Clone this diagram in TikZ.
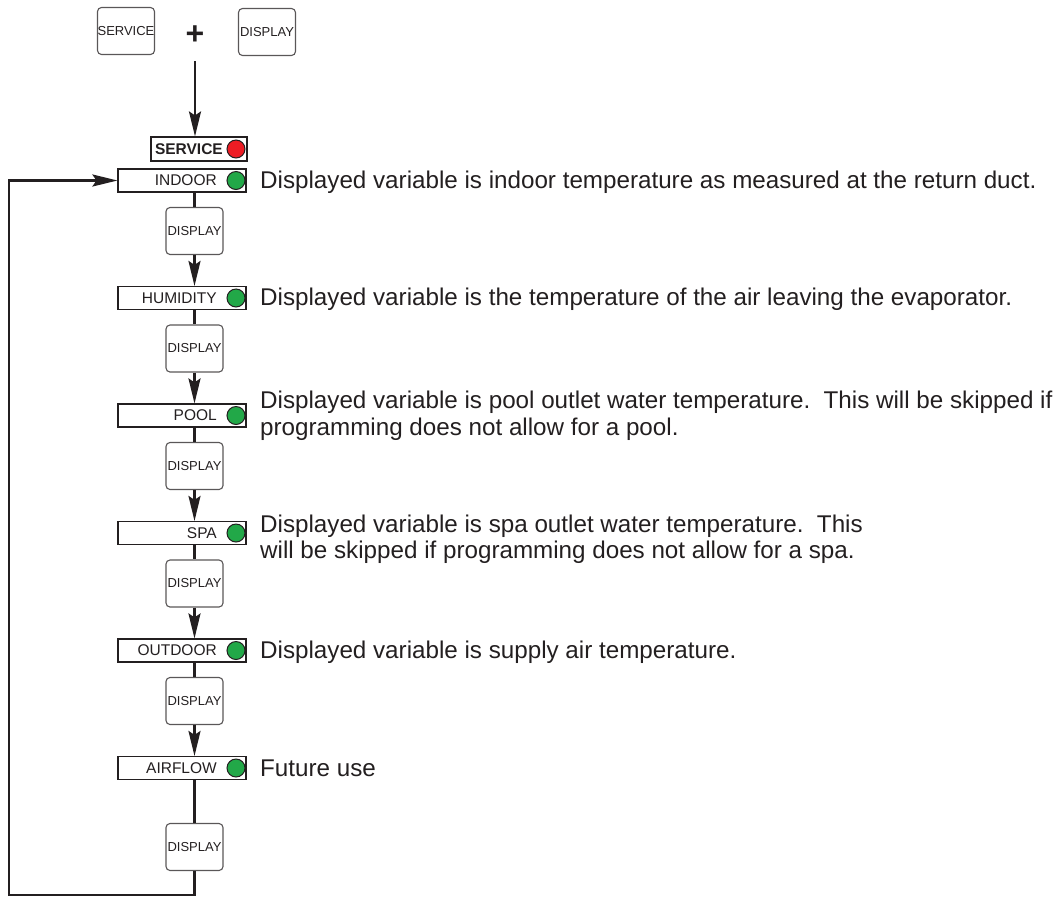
\documentclass[tikz,border=0pt]{standalone}
\usepackage{fontspec}
\setmainfont{Liberation Sans}
\usetikzlibrary{arrows.meta}
\definecolor{lampgreen}{RGB}{34,168,72}
\definecolor{lampred}{RGB}{237,28,36}
\definecolor{ink}{RGB}{35,31,32}
\begin{document}
\frenchspacing
\begin{tikzpicture}[x=1pt,y=-1pt,
  keybtn/.style={draw=ink!75, line width=1.1pt, rounded corners=4pt,
    minimum width=57pt, minimum height=47pt, inner sep=0pt,
    font=\fontsize{13}{13}\selectfont, text=ink},
  statebox/.style={draw=ink, line width=1.1pt, minimum width=128pt,
    minimum height=23pt, inner sep=0pt},
  statename/.style={anchor=east, inner sep=0pt,
    font=\fontsize{15.5}{15.5}\selectfont, text=ink},
  lamp/.style={circle, draw=ink, line width=1pt, fill=lampgreen,
    minimum size=18pt, inner sep=0pt},
  note/.style={anchor=base west, inner sep=0pt,
    font=\fontsize{24.2}{24.2}\selectfont, text=ink},
  flow/.style={draw=ink, line width=2.4pt},
  tip/.style={-{Stealth[length=25pt,width=12pt,inset=4pt]}}
]
\useasboundingbox (0,0) rectangle (1056,898);

% key combination that enters service mode
\node[keybtn] (ksvc) at (126,31) {SERVICE};
\node[keybtn] (kdsp) at (267,32) {DISPLAY};
\node[inner sep=0pt, font=\fontsize{32}{32}\selectfont\bfseries, text=ink] (plus) at (195,35) {+};
\coordinate (plusfoot) at (195,61);

% service mode header
\node[statebox, minimum width=96pt, minimum height=24pt] (svc) at (199,149) {};
\node[statename, font=\fontsize{15.5}{15.5}\selectfont\bfseries] (svct) at (223,149) {SERVICE};
\node[lamp, fill=lampred] (svcl) at (236,149) {};

% displayed variables
\node[statebox] (ind) at (182,180.5) {};
\node[statename] (indt) at (217,180.5) {INDOOR};
\node[lamp] (indl) at (236,180.5) {};

\node[statebox] (hum) at (182,298) {};
\node[statename] (humt) at (217,298) {HUMIDITY};
\node[lamp] (huml) at (236,298) {};

\node[statebox] (pool) at (182,415.5) {};
\node[statename] (poolt) at (217,415.5) {POOL};
\node[lamp] (pooll) at (236,415.5) {};

\node[statebox] (spa) at (182,533) {};
\node[statename] (spat) at (217,533) {SPA};
\node[lamp] (spal) at (236,533) {};

\node[statebox] (out) at (182,650.5) {};
\node[statename] (outt) at (217,650.5) {OUTDOOR};
\node[lamp] (outl) at (236,650.5) {};

\node[statebox] (air) at (182,768) {};
\node[statename] (airt) at (217,768) {AIRFLOW};
\node[lamp] (airl) at (236,768) {};

% DISPLAY key presses between the variables
\node[keybtn] (b1) at (194.5,231) {DISPLAY};
\node[keybtn] (b2) at (194.5,348.5) {DISPLAY};
\node[keybtn] (b3) at (194.5,466) {DISPLAY};
\node[keybtn] (b4) at (194.5,583.5) {DISPLAY};
\node[keybtn] (b5) at (194.5,701) {DISPLAY};
\node[keybtn] (b6) at (194.5,847) {DISPLAY};

% descriptions
\node[note] (n1) at (260,188) {Displayed variable is indoor temperature as measured at the return duct.};
\node[note] (n2) at (260,305.5) {Displayed variable is the temperature of the air leaving the evaporator.};
\node[note] (n3a) at (260,408) {Displayed variable is pool outlet water temperature.~~This will be skipped if};
\node[note] (n3b) at (260,435) {programming does not allow for a pool.};
\node[note] (n4a) at (260,532) {Displayed variable is spa outlet water temperature.~~This};
\node[note] (n4b) at (260,558.5) {will be skipped if programming does not allow for a spa.};
\node[note] (n5) at (260,658) {Displayed variable is supply air temperature.};
\node[note] (n6) at (260,776) {Future use};

% flow
\draw[flow, tip] (plusfoot) -- (plusfoot |- svc.north);
\foreach \s/\b/\t in {ind/b1/hum, hum/b2/pool, pool/b3/spa, spa/b4/out, out/b5/air} {
  \draw[flow] (\b.north |- \s.south) -- (\b.north);
  \draw[flow, tip] (\b.south) -- (\b.south |- \t.north);
}
\draw[flow] (b6.north |- air.south) -- (b6.north);
\coordinate (loopcorner) at (9,895);
\draw[flow, tip] (b6.south) -- (b6.south |- loopcorner) -- (loopcorner)
  -- (loopcorner |- ind.west) -- (ind.west);
\end{tikzpicture}
\end{document}
